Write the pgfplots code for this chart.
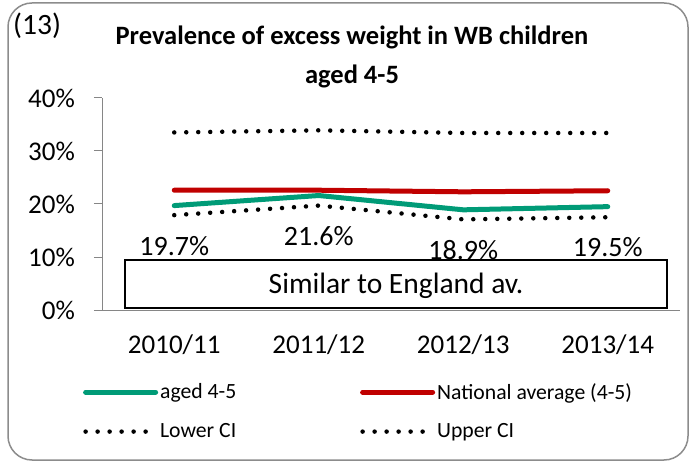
\documentclass[border=0pt]{standalone}
\usepackage{pgfplots}
\pgfplotsset{compat=1.18}
\usepackage{fontspec}
\setmainfont{Carlito}
\definecolor{wbgreen}{RGB}{0,155,119}
\definecolor{natred}{RGB}{192,0,0}
\definecolor{axgray}{RGB}{134,134,134}
\definecolor{framegray}{RGB}{140,140,140}
\begin{document}
\begin{tikzpicture}[x=1pt,y=1pt]
\useasboundingbox (0,0) rectangle (690,463);
\draw[framegray, line width=1.5pt, rounded corners=24pt] (8,460) rectangle (688,3);
\node[anchor=west, inner sep=0pt, font=\fontsize{29.5}{34}\selectfont] at (13,437) {(13)};
\node[inner sep=0pt, font=\fontsize{26.5}{30}\selectfont\bfseries] at (352,426) {Prevalence of excess weight in WB children};
\node[inner sep=0pt, font=\fontsize{26.5}{30}\selectfont\bfseries] at (352,387) {aged 4-5};
\begin{axis}[
  at={(102pt,153pt)}, anchor=south west,
  width=578pt, height=212pt, scale only axis,
  xmin=-0.5, xmax=3.5, ymin=0, ymax=40,
  axis x line*=bottom, axis y line*=left,
  axis line style={axgray, line width=1pt, -},
  xtick={0,1,2,3},
  xticklabels={2010/11,2011/12,2012/13,2013/14},
  major x tick style={draw=none},
  extra x ticks={-0.5,0.5,1.5,2.5,3.5},
  extra x tick labels={},
  extra x tick style={tick style={axgray, line width=1pt}, major tick length=8pt, tick align=outside},
  ytick={0,10,20,30,40},
  yticklabel={\pgfmathprintnumber{\tick}\%},
  y tick style={axgray, line width=1pt},
  major tick length=8pt, tick align=outside,
  tick label style={font=\fontsize{27}{32}\selectfont, black},
  /pgf/number format/assume math mode=true,
  yticklabel style={inner sep=0pt, xshift=-19pt},
  xticklabel style={inner sep=0pt, yshift=-17pt},
  clip=false,
  legend columns=2,
  legend cell align=left,
  legend style={draw=none, fill=none, inner sep=0pt, at={(-0.033,-0.336)}, anchor=north west,
    font=\fontsize{21.7}{26}\selectfont, row sep=19pt},
  legend image code/.code={\draw[#1] (0pt,0pt) -- (70pt,0pt);},
]
\addplot[wbgreen, line width=5pt, line cap=round,
  nodes near coords={\pgfmathprintnumber[fixed,precision=1,fixed zerofill]{\pgfplotspointmeta}\%},
  point meta=explicit,
  every node near coord/.style={anchor=north, inner sep=0pt, yshift=-28pt, black, font=\fontsize{28}{32}\selectfont}]
  coordinates {(0,19.7)[19.7] (1,21.6)[21.6] (2,18.9)[18.9] (3,19.5)[19.5]};
\addlegendentry{\makebox[198pt][l]{aged 4-5}}
\addplot[natred, line width=5pt, line cap=round]
  coordinates {(0,22.6) (1,22.6) (2,22.3) (3,22.5)};
\addlegendentry{National average (4-5)}
\addplot[black, line width=4.5pt, line cap=round, dash pattern=on 0pt off 12pt]
  coordinates {(0,17.9) (1,19.7) (2,17.1) (3,17.5)};
\addlegendentry{\makebox[198pt][l]{Lower CI}}
\addplot[black, line width=4.5pt, line cap=round, dash pattern=on 0pt off 12pt]
  coordinates {(0,33.5) (1,33.9) (2,33.4) (3,33.4)};
\addlegendentry{Upper CI}
\draw[black, line width=1.8pt, fill=white] (axis cs:-0.34,0.4) rectangle (axis cs:3.41,9.4);
\node[font=\fontsize{29.5}{34}\selectfont] at (axis cs:1.535,4.6) {Similar to England av.};
\end{axis}
\end{tikzpicture}
\end{document}
